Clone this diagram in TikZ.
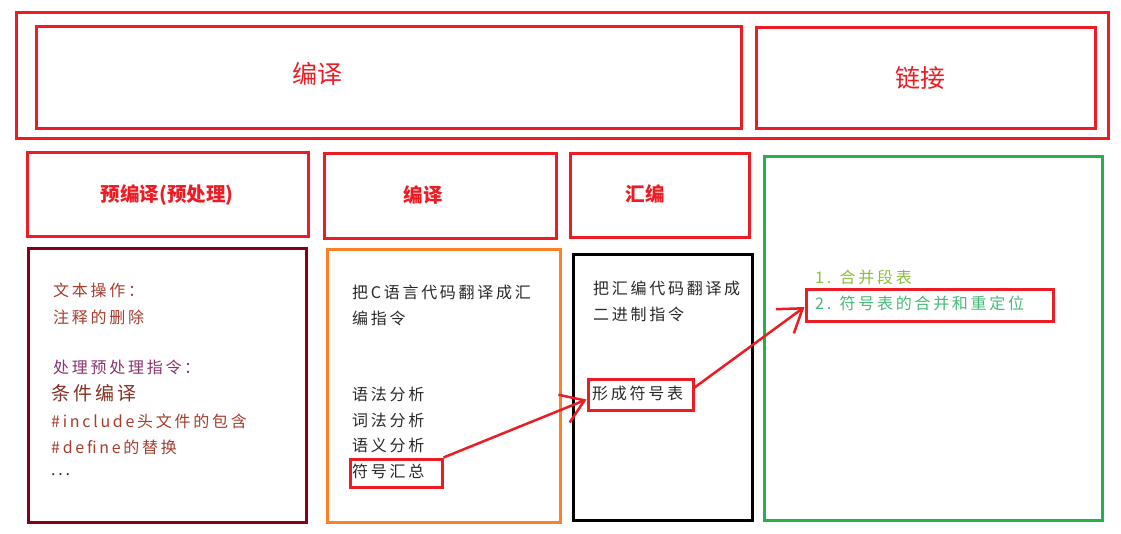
\documentclass[tikz,border=0pt]{standalone}
\usepackage{fontspec}
\setmainfont{Noto Sans CJK SC}
\newfontfamily\bodyfont[LetterSpace=17]{Noto Sans CJK SC}
\usetikzlibrary{arrows.meta, positioning}

\definecolor{paintred}{RGB}{237,28,36}
\definecolor{paintmaroon}{RGB}{136,0,21}
\definecolor{paintorange}{RGB}{255,127,39}
\definecolor{paintgreen}{RGB}{34,177,76}
\definecolor{txtbrown}{RGB}{165,60,45}
\definecolor{txtpurple}{RGB}{140,50,110}
\definecolor{txtlime}{RGB}{140,190,60}
\definecolor{txtteal}{RGB}{70,185,120}
\definecolor{txtgray}{RGB}{40,40,40}

\tikzset{
  frame/.style={draw=#1, line width=3pt, inner sep=0pt},
  title/.style={text=paintred, inner sep=0pt, font=\fontsize{#1}{#1}\selectfont},
  subtitle/.style={text=paintred, inner sep=0pt, font=\bfseries\fontsize{19.5}{19.5}\selectfont},
  body/.style={anchor=west, inner sep=0pt, font=\bodyfont\fontsize{16}{16}\selectfont},
  link/.style={draw=paintred, line width=2.5pt, -{Straight Barb[length=22pt,width=30pt]}}
}

\begin{document}
\begin{tikzpicture}[x=1pt, y=-1pt]
\useasboundingbox (0,0) rectangle (1121,533);

% top row
\node (whole) at (562,75) [frame=paintred, minimum width=1092pt, minimum height=126pt] {};
\node (compbig) at (388.5,77) [frame=paintred, minimum width=705pt, minimum height=102pt] {};
\node (compbigtxt) at (317,74) [title=25] {编译};
\node (linkbig) at (925.5,77.5) [frame=paintred, minimum width=339pt, minimum height=101pt] {};
\node (linkbigtxt) at (920,78) [title=25] {链接};

% second row
\node (prehead) at (167.5,194) [frame=paintred, minimum width=281pt, minimum height=84pt] {};
\node (preheadtxt) at (167,195) [subtitle] {预编译(预处理)};
\node (comphead) at (440,195.5) [frame=paintred, minimum width=232pt, minimum height=85pt] {};
\node (compheadtxt) at (423,195) [subtitle] {编译};
\node (asmhead) at (659.5,195) [frame=paintred, minimum width=179pt, minimum height=84pt] {};
\node (asmheadtxt) at (645,194) [subtitle] {汇编};
\node (linkbody) at (933,338) [frame=paintgreen, minimum width=338pt, minimum height=364pt] {};

% body boxes
\node (prebody) at (167,385) [frame=paintmaroon, minimum width=278pt, minimum height=274pt] {};
\node (compbody) at (443.5,385.5) [frame=paintorange, minimum width=233pt, minimum height=273pt] {};
\node (asmbody) at (662.5,387) [frame=black, minimum width=179pt, minimum height=266pt] {};

% precompile text
\node (pre1) at (53,290) [body, text=txtbrown] {文本操作：};
\node (pre2) at (53,317) [body, text=txtbrown] {注释的删除};
\node (pre3) at (53,367) [body, text=txtpurple] {处理预处理指令：};
\node (pre4) at (51,393) [body, text=txtbrown!80!black, font=\bodyfont\fontsize{19}{19}\selectfont] {条件编译};
\node (pre5) at (51,421) [body, text=txtbrown] {\#include头文件的包含};
\node (pre6) at (51,447) [body, text=txtbrown] {\#define的替换};
\node (pre7) at (51,475) [body, text=txtgray] {...};

% compile text
\node (comp1) at (352,292) [body, text=txtgray] {把C语言代码翻译成汇};
\node (comp2) at (352,318) [body, text=txtgray] {编指令};
\node (comp3) at (352,394) [body, text=txtgray] {语法分析};
\node (comp4) at (352,420) [body, text=txtgray] {词法分析};
\node (comp5) at (352,445) [body, text=txtgray] {语义分析};
\node (comp6) at (352,471) [body, text=txtgray] {符号汇总};
\node (symsum) at (396,473) [frame=paintred, minimum width=92pt, minimum height=28pt] {};

% assemble text
\node (asm1) at (593,288) [body, text=txtgray] {把汇编代码翻译成};
\node (asm2) at (593,314) [body, text=txtgray] {二进制指令};
\node (asm3) at (592,393) [body, text=txtgray] {形成符号表};
\node (symtab) at (640.5,394.5) [frame=paintred, minimum width=105pt, minimum height=31pt] {};

% link text
\node (link1) at (815,277) [body, text=txtlime] {1. 合并段表};
\node (link2) at (815,303) [body, text=txtteal] {2. 符号表的合并和重定位};
\node (reloc) at (929.5,305) [frame=paintred, minimum width=247pt, minimum height=32pt] {};

% arrows
\draw [link] (symsum.north east) -- ([yshift=-5pt]symtab.west);
\draw [link] ([yshift=7pt]symtab.east) -- ([yshift=-2pt]reloc.west);
\end{tikzpicture}
\end{document}
